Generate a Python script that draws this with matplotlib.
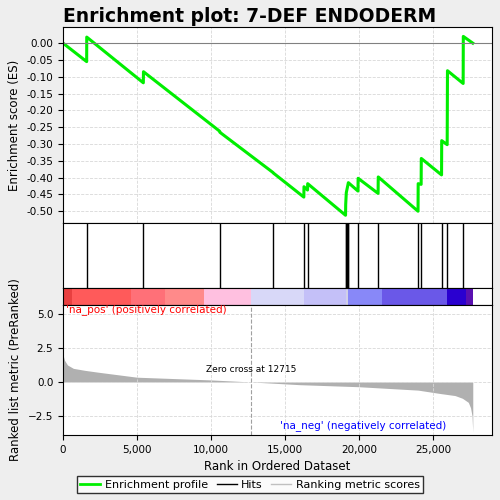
import matplotlib
matplotlib.use("Agg")
from matplotlib import pyplot as plt
from matplotlib.lines import Line2D

# Running enrichment score (rank, ES)
es_rank = [0, 1600, 1605, 5430, 5440, 10590, 10600, 14200, 14210, 16280, 16290,
           16530, 16540, 19100, 19110, 19150, 19290, 19940, 19950, 21300, 21310,
           24000, 24010, 24210, 24220, 25590, 25600, 25970, 25980, 25990, 27050,
           27060, 27700]
es_val = [0.0, -0.055, 0.018, -0.118, -0.085, -0.262, -0.265, -0.385, -0.386,
          -0.458, -0.427, -0.437, -0.418, -0.512, -0.48, -0.445, -0.415, -0.44,
          -0.402, -0.447, -0.398, -0.5, -0.418, -0.42, -0.343, -0.392, -0.29,
          -0.302, -0.195, -0.082, -0.12, 0.02, 0.0]

hits = [1605, 5440, 10590, 14200, 16280, 16530, 19100, 19150, 19200, 19250,
        19290, 19940, 21300, 24000, 24210, 25590, 25970, 27050]

# Ranked metric profile (rank, value)
metric_rank = [0, 100, 300, 700, 1500, 2500, 5000, 7500, 10000, 12715, 16000,
               20000, 24000, 25500, 26500, 27000, 27400, 27550, 27650, 27700]
metric_val = [2.0, 1.6, 1.25, 1.0, 0.85, 0.7, 0.35, 0.25, 0.15, 0.0, -0.2,
              -0.35, -0.6, -0.85, -1.0, -1.2, -1.5, -1.9, -2.5, -3.7]

# Colour bar segments
bar_edges = [0, 630, 4610, 6890, 9550, 12740, 16280, 19100, 19290, 21550,
             25990, 27240, 27690]
bar_colors = ["#e84040", "#ff5a5a", "#ff7078", "#ff8a8a", "#ffc0e0", "#d8d8f8",
              "#c4c0f8", "#d0d0e8", "#8888f8", "#6a58e8", "#2a00d0", "#5a10b0"]

zero_cross = 12715
xmax = 29000

fig = plt.figure(figsize=(5, 5), dpi=100, facecolor="#eeeeee")
fig.suptitle("Enrichment plot: 7-DEF ENDODERM", fontsize=13.5, fontweight="bold", y=0.985)

ax1 = fig.add_axes([0.126, 0.554, 0.858, 0.392])
ax1.plot(es_rank, es_val, color="#00ee00", lw=2.2)
ax1.axhline(0, color="#808080", lw=0.8)
ax1.set_xlim(0, xmax)
ax1.set_ylim(-0.535, 0.048)
ax1.set_yticks([0, -0.05, -0.1, -0.15, -0.2, -0.25, -0.3, -0.35, -0.4, -0.45, -0.5])
ax1.set_yticklabels([f"{v:.2f}" for v in ax1.get_yticks()], fontsize=7.5)
ax1.set_xticks([0, 5000, 10000, 15000, 20000, 25000])
ax1.set_xticklabels([])
ax1.tick_params(axis="x", length=0)
ax1.grid(True, ls="--", color="#d8d8d8", lw=0.6)
ax1.set_ylabel("Enrichment score (ES)", fontsize=8.5)

ax2 = fig.add_axes([0.126, 0.424, 0.858, 0.130])
for h in hits:
    ax2.axvline(h, color="black", lw=1)
ax2.set_xlim(0, xmax)
ax2.set_xticks([])
ax2.set_yticks([])

ax3 = fig.add_axes([0.126, 0.39, 0.858, 0.034])
for i, c in enumerate(bar_colors):
    ax3.axvspan(bar_edges[i], bar_edges[i + 1], color=c, lw=0)
ax3.set_xlim(0, xmax)
ax3.set_xticks([])
ax3.set_yticks([])

ax4 = fig.add_axes([0.126, 0.13, 0.858, 0.26])
ax4.fill_between(metric_rank, metric_val, 0, color="#b0b0b0", lw=0)
ax4.axvline(zero_cross, color="#a0a0a0", ls="--", lw=0.8)
ax4.set_xlim(0, xmax)
ax4.set_ylim(-3.9, 5.66)
ax4.set_yticks([5.0, 2.5, 0.0, -2.5])
ax4.set_xticks([0, 5000, 10000, 15000, 20000, 25000])
ax4.set_xticklabels(["0", "5,000", "10,000", "15,000", "20,000", "25,000"], fontsize=7.5)
ax4.tick_params(axis="y", labelsize=7.5)
ax4.grid(True, ls="--", color="#d8d8d8", lw=0.6)
ax4.set_xlabel("Rank in Ordered Dataset", fontsize=8.5)
ax4.set_ylabel("Ranked list metric (PreRanked)", fontsize=8.5)
ax4.text(200, 5.3, "'na_pos' (positively correlated)", color="red", fontsize=7.5, va="center")
ax4.text(14700, -3.2, "'na_neg' (negatively correlated)", color="blue", fontsize=7.5, va="center")
ax4.text(zero_cross, 0.7, "Zero cross at 12715", fontsize=6.5, ha="center")

handles = [Line2D([], [], color="#00ee00", lw=2),
           Line2D([], [], color="black", lw=1),
           Line2D([], [], color="#c0c0c0", lw=1)]
fig.legend(handles, ["Enrichment profile", "Hits", "Ranking metric scores"],
           loc="center", bbox_to_anchor=(0.5, 0.031), ncol=3, fontsize=8,
           frameon=True, fancybox=False, edgecolor="black", handlelength=1.8,
           columnspacing=0.8, handletextpad=0.4, borderpad=0.3)

fig.savefig("out.png", facecolor=fig.get_facecolor())
